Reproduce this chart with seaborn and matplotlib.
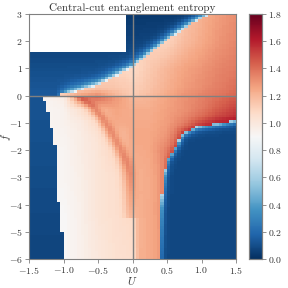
import numpy as np
import pandas as pd
import matplotlib
matplotlib.use("Agg")
import matplotlib.pyplot as plt
import seaborn as sns

# ---------------- data ----------------
U_centers = np.round(np.arange(-1.475, 1.5, 0.05), 3)      # 60 columns
F_centers = np.round(np.arange(2.95, -6.0, -0.1), 3)       # 90 rows, top -> bottom

# region without data (blank, top-left)
gap_u_max = -0.08
gap_f_min = 1.6

# upper blue phase boundary f_b(U)
top_u = [-1.5, -1.2, -0.88, -0.47, 0.0, 0.25, 0.5, 0.74, 0.98, 1.12, 1.5]
top_f = [-0.05, 0.0, 0.1, 0.42, 1.04, 1.53, 2.02, 2.45, 2.82, 3.0, 3.5]
# strength of the light rim along that boundary
top_rim_u = [-1.5, -1.1, -0.9, 1.5]
top_rim_a = [0.0, 0.0, 0.75, 0.75]

# lower-left blue phase boundary U_l(f)
left_f = [-6.0, -4.0, -3.9, -2.2, -1.9, -1.63, -1.32, -0.96, -0.64, -0.34, -0.15, 0.0]
left_u = [-1.02, -1.03, -1.08, -1.08, -1.12, -1.14, -1.16, -1.2, -1.22, -1.25, -1.28, -1.32]

# lower-right blue phase boundary U_r(f)
right_f = [-6.0, -4.2, -2.97, -2.36, -1.88, -1.37, -1.14, -0.95, -0.85]
right_u = [0.375, 0.40, 0.45, 0.50, 0.62, 0.73, 0.93, 1.41, 1.6]

# entropy in the gapless region, coarse read-off table
base_u = [-1.5, -1.25, -1.0, -0.75, -0.5, -0.25, 0.0, 0.1, 0.25, 0.5, 0.75, 1.0, 1.25, 1.5]
base_f = [-6.0, -4.5, -3.0, -2.0, -1.5, -1.0, -0.5, -0.05, 0.05, 0.3, 1.0, 2.0, 3.0]
base_vals = [
    [0.90, 0.90, 0.90, 0.95, 1.00, 1.04, 1.06, 1.22, 1.24, 1.30, 1.30, 1.30, 1.30, 1.30],
    [0.90, 0.90, 0.90, 0.95, 1.02, 1.05, 1.08, 1.22, 1.24, 1.30, 1.30, 1.30, 1.30, 1.30],
    [0.92, 0.92, 0.92, 0.96, 1.02, 1.05, 1.18, 1.22, 1.24, 1.30, 1.30, 1.30, 1.30, 1.30],
    [0.92, 0.92, 0.92, 0.97, 1.02, 1.10, 1.24, 1.24, 1.25, 1.35, 1.40, 1.40, 1.40, 1.40],
    [0.92, 0.92, 0.93, 0.97, 1.03, 1.15, 1.25, 1.25, 1.25, 1.30, 1.45, 1.50, 1.50, 1.50],
    [0.92, 0.92, 0.94, 0.98, 1.08, 1.24, 1.24, 1.24, 1.24, 1.28, 1.35, 1.45, 1.55, 1.60],
    [0.92, 0.92, 0.94, 1.05, 1.20, 1.26, 1.23, 1.23, 1.23, 1.27, 1.31, 1.37, 1.45, 1.52],
    [0.93, 0.93, 0.97, 1.38, 1.42, 1.30, 1.20, 1.20, 1.21, 1.26, 1.31, 1.35, 1.40, 1.45],
    [1.10, 1.10, 1.12, 1.25, 1.30, 1.20, 1.13, 1.15, 1.18, 1.24, 1.30, 1.34, 1.38, 1.42],
    [1.10, 1.10, 1.10, 1.10, 1.15, 1.15, 1.12, 1.13, 1.16, 1.22, 1.28, 1.32, 1.36, 1.40],
    [1.10, 1.10, 1.10, 1.10, 1.10, 1.10, 1.08, 1.10, 1.14, 1.20, 1.26, 1.30, 1.34, 1.37],
    [1.10, 1.10, 1.10, 1.10, 1.10, 1.10, 1.10, 1.10, 1.10, 1.10, 1.18, 1.24, 1.30, 1.34],
    [1.10, 1.10, 1.10, 1.10, 1.10, 1.10, 1.10, 1.10, 1.10, 1.10, 1.15, 1.22, 1.28, 1.32],
]

# diagonal ridge of high entropy below f = 0
ridge_f = [-4.45, -3.5, -2.85, -2.4, -1.87, -1.3, -0.8, -0.3, 0.0]
ridge_u = [-0.03, -0.03, -0.05, -0.10, -0.20, -0.32, -0.45, -0.62, -0.80]
ridge_amp = [0.12, 0.14, 0.16, 0.18, 0.18, 0.18, 0.18, 0.15, 0.10]
ridge_width = 0.09

# red rim along the lower-right boundary
rim_f = [-6.0, -4.5, -3.3, -2.5, -1.9, -1.2, -0.85]
rim_val = [1.28, 1.30, 1.35, 1.42, 1.50, 1.55, 1.62]

# blue levels
top_blue_f = [0.0, 1.5, 3.0]
top_blue_v = [0.14, 0.08, 0.03]
left_blue_f = [-6.0, 0.0]
left_blue_v = [0.07, 0.12]
right_blue_v = 0.08

x_ticks = [-1.5, -1.0, -0.5, 0.0, 0.5, 1.0, 1.5]
y_ticks = [-6, -5, -4, -3, -2, -1, 0, 1, 2, 3]
cbar_ticks = [0.0, 0.2, 0.4, 0.6, 0.8, 1.0, 1.2, 1.4, 1.6, 1.8]

# ---------------- build the field ----------------
UU, FF = np.meshgrid(U_centers, F_centers)

rows = np.array([np.interp(U_centers, base_u, r) for r in base_vals])
V = np.empty_like(UU)
for i in range(len(U_centers)):
    V[:, i] = np.interp(F_centers, base_f, rows[:, i])

ru = np.interp(FF, ridge_f, ridge_u)
ra = np.interp(FF, ridge_f, ridge_amp)
on_ridge = (FF <= 0.0) & (FF >= -4.45)
V = V + np.where(on_ridge, ra * np.exp(-((UU - ru) / ridge_width) ** 2), 0.0)

fb = np.interp(UU, top_u, top_f)
ul = np.interp(FF, left_f, left_u)
ur = np.interp(FF, right_f, right_u)

tu = np.linspace(-1.5, 1.5, 600)
tf = np.interp(tu, top_u, top_f)
rf = np.linspace(-6, -0.85, 600)
ru_line = np.interp(rf, right_f, right_u)

def dist_to(line_u, line_f):
    du = UU[..., None] - line_u[None, None, :]
    df = (FF[..., None] - line_f[None, None, :]) / 3.0
    return np.sqrt(du ** 2 + df ** 2).min(axis=-1)

d_top = dist_to(tu, tf)
d_right = dist_to(ru_line, rf)

top_mask = FF > fb
left_mask = (FF < 0) & (UU < ul)
right_mask = (FF < -0.85) & (UU > ur)

rv = np.interp(FF, rim_f, rim_val)
rim_w = np.exp(-d_right / 0.04)
mid = ~(top_mask | left_mask | right_mask)
V = np.where(mid & (FF < -0.8), V * (1 - rim_w) + rv * rim_w, V)

tb = np.interp(FF, top_blue_f, top_blue_v)
ta = np.interp(UU, top_rim_u, top_rim_a)
V = np.where(top_mask, tb + ta * np.exp(-d_top / 0.045), V)
V = np.where(left_mask, np.interp(FF, left_blue_f, left_blue_v), V)
V = np.where(right_mask, right_blue_v + 0.6 * np.exp(-d_right / 0.03), V)

gap = (UU < gap_u_max) & (FF > gap_f_min)
V = np.where(gap, np.nan, V)

df_map = pd.DataFrame(V, index=F_centers, columns=U_centers)

# ---------------- plot ----------------
plt.rcParams["font.family"] = "serif"
plt.rcParams["font.serif"] = ["cmr10"]
plt.rcParams["mathtext.fontset"] = "cm"
plt.rcParams["axes.formatter.use_mathtext"] = True

fig = plt.figure(figsize=(2.88, 2.88), dpi=100)
ax = fig.add_axes([29 / 288, 29 / 288, 207 / 288, 245 / 288])
cax = fig.add_axes([249 / 288, 29 / 288, 13 / 288, 245 / 288])

sns.heatmap(df_map, ax=ax, cbar_ax=cax, cmap="RdBu_r", vmin=0, vmax=1.8,
            xticklabels=False, yticklabels=False)

nx, ny = len(U_centers), len(F_centers)
def xpos(u):
    return (u + 1.5) / 3.0 * nx
def ypos(f):
    return (3.0 - f) / 9.0 * ny

gray = "#808080"
txt = "#333333"
ax.set_xticks([xpos(u) for u in x_ticks])
ax.set_xticklabels([f"${u:.1f}$" for u in x_ticks])
ax.set_yticks([ypos(f) for f in y_ticks])
ax.set_yticklabels([f"${f:d}$" for f in y_ticks], rotation=0)
ax.tick_params(axis="both", labelsize=7, length=3, width=0.6, color=gray,
               labelcolor=txt, direction="out", pad=1.5)
for s in ax.spines.values():
    s.set_visible(True)
    s.set_color(gray)
    s.set_linewidth(0.8)

ax.axvline(xpos(0.0), color=gray, lw=1.0)
ax.axhline(ypos(0.0), color=gray, lw=1.0)

ax.set_xlabel("$U$", fontsize=8, color=txt)
ax.xaxis.set_label_coords(0.5, -0.066)
ax.set_ylabel("$f$", fontsize=8, color=txt)
ax.yaxis.set_label_coords(-0.078, 0.5)
ax.set_title("Central-cut entanglement entropy", fontsize=8, color=txt, pad=2)

cax.set_yticks(cbar_ticks)
cax.set_yticklabels([f"${t:.1f}$" for t in cbar_ticks])
cax.tick_params(labelsize=7, length=3, width=0.6, color=gray, labelcolor=txt, pad=1.5)
for s in cax.spines.values():
    s.set_visible(True)
    s.set_color(gray)
    s.set_linewidth(0.8)

fig.savefig("out.png", dpi=100)
